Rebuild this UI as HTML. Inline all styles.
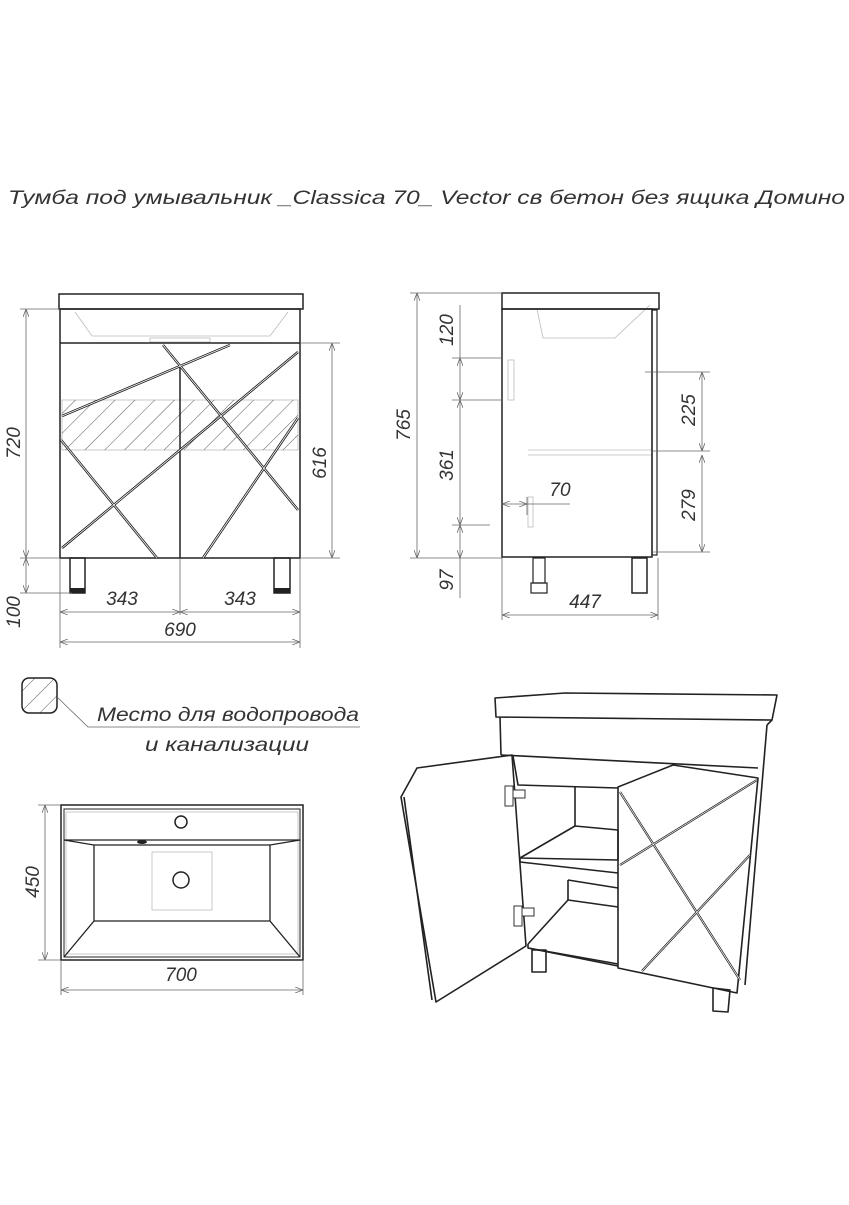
<!DOCTYPE html>
<html><head><meta charset="utf-8"><style>
html,body{margin:0;padding:0;background:#fff;}
svg text{font-family:"Liberation Sans","DejaVu Sans",sans-serif;font-style:italic;fill:#333;}
</style></head><body>
<svg width="849" height="1200" viewBox="0 0 849 1200" xmlns="http://www.w3.org/2000/svg">
<defs>
<pattern id="h" width="14" height="14" patternUnits="userSpaceOnUse" patternTransform="rotate(45)">
<line x1="0" y1="0" x2="0" y2="14" stroke="#444" stroke-width="0.9"/></pattern>
<marker id="a" markerWidth="8" markerHeight="6" refX="8" refY="3" orient="auto-start-reverse" markerUnits="userSpaceOnUse"><path d="M0,0 L8,3 L0,6" fill="none" stroke="#666" stroke-width="0.8"/></marker>
</defs>
<text x="8" y="204" font-size="19" textLength="837" lengthAdjust="spacingAndGlyphs">Тумба под умывальник _Classica 70_  Vector св бетон без ящика Домино</text>

<!-- FRONT VIEW -->
<g stroke="#bbb" stroke-width="0.8" fill="none">
<path d="M75,312 L92,336 L270,336 L288,312"/><rect x="150" y="338" width="60" height="4"/>
<rect x="62" y="400" width="236" height="50"/>
</g>
<rect x="62" y="400" width="236" height="50" fill="url(#h)"/>
<rect x="59" y="294" width="244" height="15" fill="none" stroke="#222" stroke-width="1.5"/>
<rect x="60" y="309" width="240" height="249" fill="none" stroke="#222" stroke-width="1.5"/>
<line x1="60" y1="343" x2="300" y2="343" stroke="#222" stroke-width="1.5"/>
<line x1="180" y1="366" x2="180" y2="558" stroke="#222" stroke-width="1.5"/>
<g stroke="#222" stroke-width="2.5" fill="none">
<line x1="62" y1="416" x2="230" y2="345"/>
<line x1="61" y1="440" x2="157" y2="558"/>
<line x1="62" y1="548" x2="298" y2="352"/>
<line x1="163" y1="345" x2="298" y2="510"/>
<line x1="298" y1="418" x2="203" y2="558"/>
</g>
<g stroke="#fff" stroke-width="0.8" fill="none">
<line x1="62" y1="416" x2="230" y2="345"/>
<line x1="61" y1="440" x2="157" y2="558"/>
<line x1="62" y1="548" x2="298" y2="352"/>
<line x1="163" y1="345" x2="298" y2="510"/>
<line x1="298" y1="418" x2="203" y2="558"/>
</g>
<rect x="70" y="558" width="15" height="35" fill="none" stroke="#222" stroke-width="1.5"/>
<rect x="70" y="588" width="15" height="5" fill="#222"/>
<rect x="274" y="558" width="16" height="35" fill="none" stroke="#222" stroke-width="1.5"/>
<rect x="274" y="588" width="16" height="5" fill="#222"/>
<g stroke="#666" stroke-width="0.8" fill="none">
<line x1="20" y1="309" x2="60" y2="309"/><line x1="20" y1="558" x2="60" y2="558"/>
<line x1="26" y1="309" x2="26" y2="558" marker-start="url(#a)" marker-end="url(#a)"/>
<line x1="26" y1="558" x2="26" y2="593" marker-start="url(#a)" marker-end="url(#a)"/>
<line x1="20" y1="593" x2="72" y2="593"/>
<line x1="300" y1="343" x2="340" y2="343"/><line x1="300" y1="558" x2="340" y2="558"/>
<line x1="332" y1="343" x2="332" y2="558" marker-start="url(#a)" marker-end="url(#a)"/>
<line x1="60" y1="558" x2="60" y2="648"/><line x1="300" y1="558" x2="300" y2="648"/><line x1="180" y1="558" x2="180" y2="615"/>
<line x1="60" y1="612" x2="180" y2="612" marker-start="url(#a)" marker-end="url(#a)"/>
<line x1="180" y1="612" x2="300" y2="612" marker-start="url(#a)" marker-end="url(#a)"/>
<line x1="60" y1="642" x2="300" y2="642" marker-start="url(#a)" marker-end="url(#a)"/>
</g>
<g font-size="19">
<text transform="translate(20,443) rotate(-90)" text-anchor="middle">720</text>
<text transform="translate(326,463) rotate(-90)" text-anchor="middle">616</text>
<text transform="translate(20,612) rotate(-90)" text-anchor="middle">100</text>
<text x="122" y="605" text-anchor="middle">343</text>
<text x="240" y="605" text-anchor="middle">343</text>
<text x="180" y="636" text-anchor="middle">690</text>
</g>

<!-- SIDE VIEW -->
<g stroke="#bbb" stroke-width="0.8" fill="none">
<path d="M537,309 L543,338 L615,338 L650,305"/>
<line x1="528" y1="450" x2="652" y2="450"/><line x1="528" y1="455" x2="652" y2="455"/>
<rect x="508" y="360" width="6" height="40"/><rect x="528" y="497" width="5" height="30"/>
</g>
<rect x="502" y="293" width="157" height="16" fill="none" stroke="#222" stroke-width="1.5"/>
<rect x="502" y="309" width="150" height="248" fill="none" stroke="#222" stroke-width="1.5"/>
<rect x="652" y="310" width="5" height="245" fill="none" stroke="#222" stroke-width="1.2"/>
<rect x="533" y="558" width="12" height="25" fill="none" stroke="#222" stroke-width="1.2"/>
<rect x="531" y="583" width="16" height="10" fill="none" stroke="#222" stroke-width="1.2"/>
<rect x="632" y="558" width="15" height="35" fill="none" stroke="#222" stroke-width="1.5"/>
<g stroke="#666" stroke-width="0.8" fill="none">
<line x1="410" y1="293" x2="502" y2="293"/><line x1="410" y1="558" x2="502" y2="558"/>
<line x1="417" y1="293" x2="417" y2="558" marker-start="url(#a)" marker-end="url(#a)"/>
<line x1="452" y1="358" x2="502" y2="358"/><line x1="452" y1="400" x2="502" y2="400"/><line x1="452" y1="525" x2="490" y2="525"/>
<line x1="460" y1="305" x2="460" y2="358"/>
<line x1="460" y1="358" x2="460" y2="400" marker-start="url(#a)" marker-end="url(#a)"/>
<line x1="460" y1="400" x2="460" y2="525" marker-start="url(#a)" marker-end="url(#a)"/>
<line x1="460" y1="525" x2="460" y2="558" marker-start="url(#a)" marker-end="url(#a)"/>
<line x1="460" y1="558" x2="460" y2="598"/>
<line x1="502" y1="504" x2="527" y2="504" marker-start="url(#a)" marker-end="url(#a)"/>
<line x1="527" y1="497" x2="527" y2="515"/><line x1="527" y1="504" x2="570" y2="504"/>
<line x1="645" y1="372" x2="710" y2="372"/><line x1="652" y1="451" x2="710" y2="451"/><line x1="652" y1="552" x2="710" y2="552"/>
<line x1="702" y1="372" x2="702" y2="451" marker-start="url(#a)" marker-end="url(#a)"/>
<line x1="702" y1="455" x2="702" y2="552" marker-start="url(#a)" marker-end="url(#a)"/>
<line x1="502" y1="558" x2="502" y2="620"/><line x1="658" y1="558" x2="658" y2="620"/>
<line x1="502" y1="615" x2="658" y2="615" marker-start="url(#a)" marker-end="url(#a)"/>
</g>
<g font-size="19">
<text transform="translate(410,425) rotate(-90)" text-anchor="middle">765</text>
<text transform="translate(453,330) rotate(-90)" text-anchor="middle">120</text>
<text transform="translate(453,465) rotate(-90)" text-anchor="middle">361</text>
<text transform="translate(453,580) rotate(-90)" text-anchor="middle">97</text>
<text x="560" y="496" text-anchor="middle">70</text>
<text transform="translate(695,410) rotate(-90)" text-anchor="middle">225</text>
<text transform="translate(695,505) rotate(-90)" text-anchor="middle">279</text>
<text x="585" y="608" text-anchor="middle">447</text>
</g>

<!-- LEGEND -->
<rect x="22" y="678" width="35" height="35" rx="7" fill="url(#h)" stroke="#222" stroke-width="1.5"/>
<polyline points="57,697 88,727 360,727" fill="none" stroke="#666" stroke-width="0.8"/>
<text x="97" y="721" font-size="19" textLength="262" lengthAdjust="spacingAndGlyphs">Место для водопровода</text>
<text x="145" y="751" font-size="19" textLength="164" lengthAdjust="spacingAndGlyphs">и канализации</text>

<!-- TOP VIEW -->
<g stroke="#bbb" stroke-width="0.8" fill="none">
<rect x="152" y="852" width="60" height="58"/><rect x="66" y="812" width="232" height="142"/>
</g>
<rect x="61" y="805" width="242" height="155" fill="none" stroke="#222" stroke-width="1.5"/>
<rect x="64" y="809" width="236" height="148" fill="none" stroke="#222" stroke-width="1"/>
<line x1="64" y1="840" x2="300" y2="840" stroke="#222" stroke-width="1.2"/>
<path d="M64,840 L94,845 L94,921 L64,957 M300,840 L270,845 L270,921 L300,957 M94,845 L270,845 M94,921 L270,921" fill="none" stroke="#222" stroke-width="1.3"/>
<circle cx="181" cy="822" r="6" fill="none" stroke="#222" stroke-width="1.5"/>
<circle cx="181" cy="880" r="8" fill="none" stroke="#222" stroke-width="1.5"/>
<ellipse cx="142" cy="842" rx="5" ry="2" fill="#222"/>
<g stroke="#666" stroke-width="0.8" fill="none">
<line x1="38" y1="805" x2="61" y2="805"/><line x1="38" y1="960" x2="61" y2="960"/>
<line x1="45" y1="805" x2="45" y2="960" marker-start="url(#a)" marker-end="url(#a)"/>
<line x1="61" y1="960" x2="61" y2="995"/><line x1="303" y1="960" x2="303" y2="995"/>
<line x1="61" y1="990" x2="303" y2="990" marker-start="url(#a)" marker-end="url(#a)"/>
</g>
<text transform="translate(39,882) rotate(-90)" text-anchor="middle" font-size="19">450</text>
<text x="181" y="981" text-anchor="middle" font-size="19">700</text>

<!-- ISO VIEW -->
<g stroke="#222" stroke-width="1.6" fill="none" stroke-linejoin="round">
<polygon points="495,698 565,693 777,695 772,720 496,717"/>
<line x1="772" y1="720" x2="767" y2="725"/>
<polyline points="500,717 501,755"/>
<polyline points="767,725 745,985"/>
<line x1="501" y1="755" x2="758" y2="768"/>
<polyline points="513,756 518,785 618,788"/>
<line x1="575" y1="786" x2="575" y2="826"/>
<polygon points="520,858 575,826 618,830 618,860"/>
<line x1="520" y1="858" x2="520" y2="862"/><line x1="520" y1="862" x2="618" y2="873"/>
<polyline points="568,880 568,900 618,907"/><polyline points="568,880 618,888"/>
<polyline points="528,944 568,900"/>
<polyline points="528,944 528,948 618,966"/><line x1="528" y1="948" x2="618" y2="964"/>
<rect x="532" y="950" width="14" height="22"/>
<polygon points="713,988 730,990 728,1012 713,1011"/>
<polygon points="401,797 417,768 512,755 526,946 436,1002"/>
<polyline points="404,797 432,1000"/>
<polygon points="618,787 673,765 758,778 737,993 618,968"/>
</g>
<g stroke="#222" stroke-width="2.2" fill="none">
<line x1="620" y1="792" x2="740" y2="980"/>
<line x1="620" y1="865" x2="757" y2="780"/>
<line x1="642" y1="971" x2="750" y2="855"/>
</g>
<g stroke="#fff" stroke-width="0.7" fill="none">
<line x1="620" y1="792" x2="740" y2="980"/>
<line x1="620" y1="865" x2="757" y2="780"/>
<line x1="642" y1="971" x2="750" y2="855"/>
</g>
<g stroke="#333" stroke-width="1" fill="#fff">
<rect x="505" y="786" width="8" height="20"/><rect x="513" y="790" width="12" height="8"/>
<rect x="514" y="906" width="8" height="20"/><rect x="522" y="908" width="12" height="8"/>
</g>
</svg>
</body></html>
